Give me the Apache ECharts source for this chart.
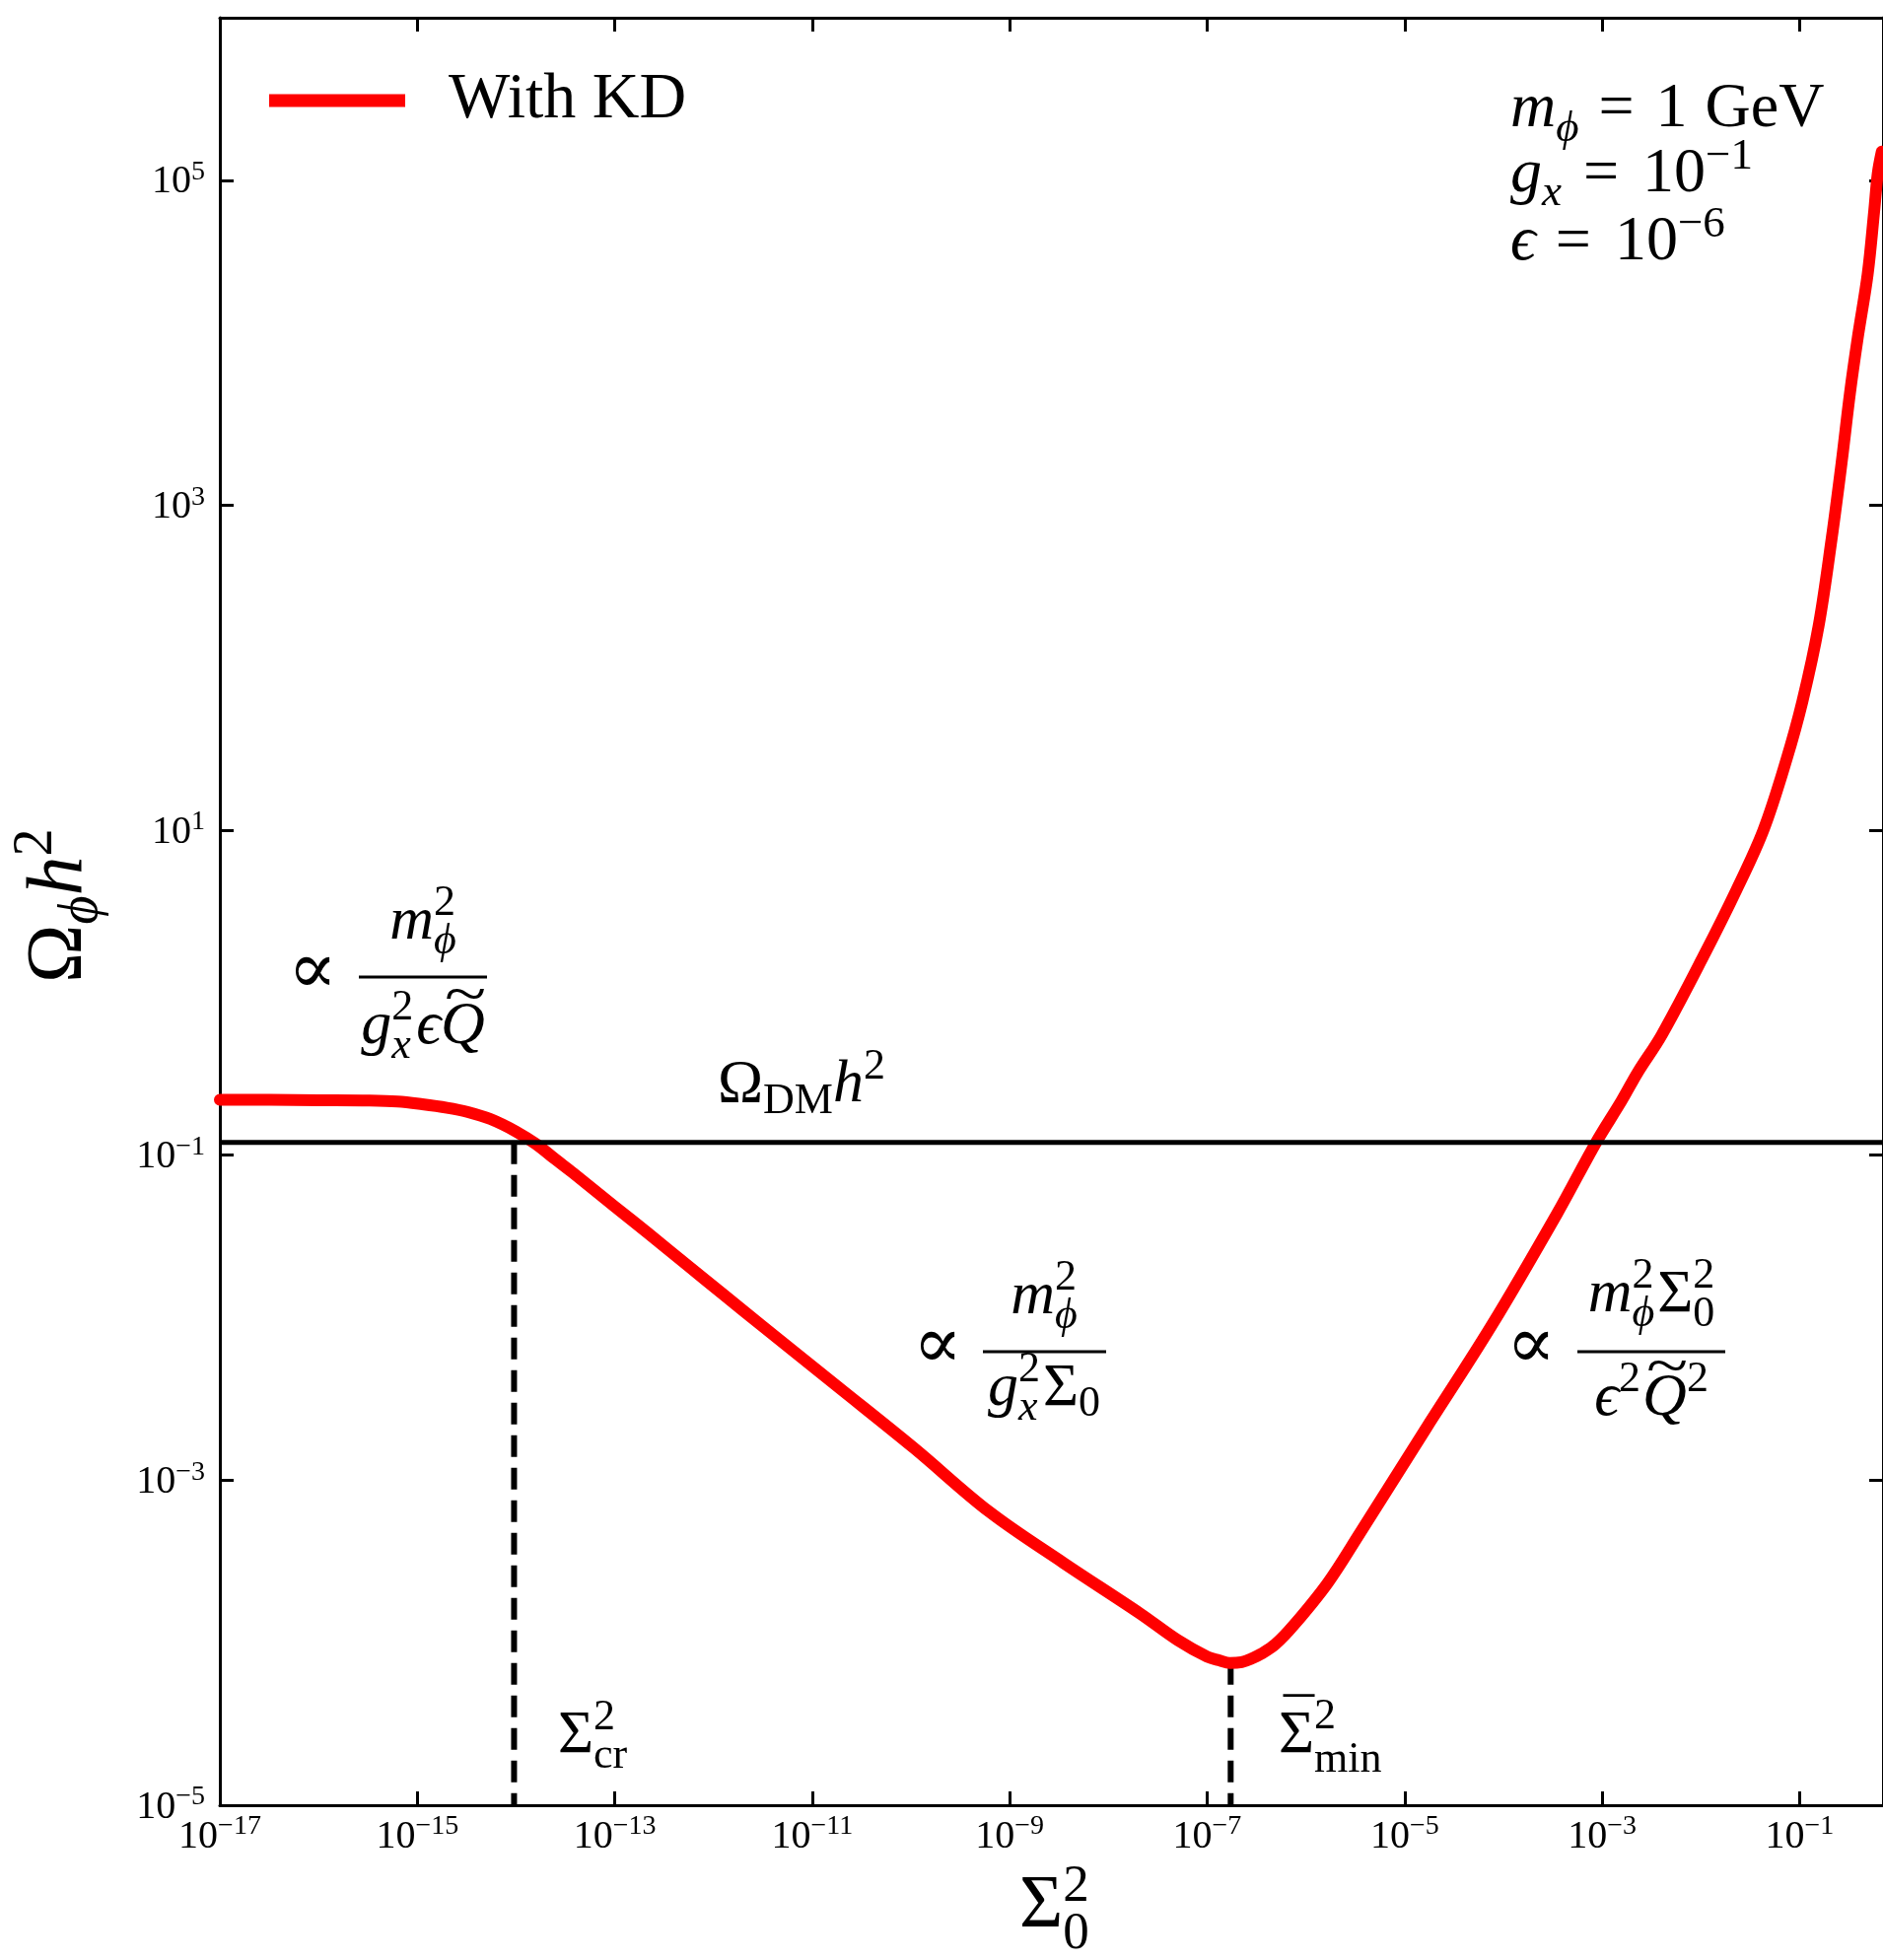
<!DOCTYPE html>
<html><head><meta charset="utf-8">
<script src="https://cdn.jsdelivr.net/npm/echarts@6/dist/echarts.min.js"></script>
<style>html,body{margin:0;padding:0;background:#fff}#c{width:1910px;height:1988px}</style>
</head><body><div id="c"></div>
<script>
// ---------------- data ----------------
const sigma0Sq = [1e-17, 3.2e-17, 1e-16, 3.2e-16, 6.3e-16, 1.12e-15, 2.0e-15, 3.2e-15, 5.5e-15, 1.0e-14,
  1.6e-14, 2.5e-14, 3.8e-14, 1.0e-13, 2.2e-13, 5.6e-13, 1.26e-12, 3.2e-12, 1.86e-11, 1.07e-10,
  6.2e-10, 3.5e-9, 2.1e-8, 5.0e-8, 1.0e-7, 1.32e-7, 1.7e-7, 2.24e-7, 2.9e-7, 3.5e-7,
  4.9e-7, 7.6e-7, 1.66e-6, 3.5e-6, 1.62e-5, 7.6e-5, 3.5e-4, 8.7e-4, 1.58e-3, 2.3e-3,
  4.0e-3, 1.07e-2, 2.3e-2, 4.3e-2, 7.3e-2, 0.107, 0.156, 0.212, 0.267,
  0.324, 0.39, 0.49, 0.57, 0.62, 0.68];
const omegaH2 = [0.219, 0.219, 0.218, 0.217, 0.214, 0.206, 0.196, 0.185, 0.167, 0.140,
  0.117, 0.0944, 0.0776, 0.0483, 0.0329, 0.0207, 0.0139, 0.00877, 0.00372, 0.00158,
  6.4e-4, 3.1e-4, 1.51e-4, 1.04e-4, 8.2e-5, 7.8e-5, 7.5e-5, 7.6e-5, 8.04e-5, 8.51e-5,
  9.77e-5, 1.29e-4, 2.33e-4, 4.7e-4, 2.05e-3, 8.95e-3, 0.0437, 0.12, 0.217, 0.324,
  0.547, 1.69, 4.3, 10.0, 26.7, 62.2, 181, 631, 1840,
  4900, 10900, 26500, 64700, 110700, 1.5e5];
const xTickExponents = [-17, -15, -13, -11, -9, -7, -5, -3, -1];
const yTickExponents = [-5, -3, -1, 1, 3, 5];
const xRange = [1e-17, 0.70];
const yRange = [1e-5, 1e6];
const omegaDM = 0.12;
const sigmaCr = 9.55e-15;
const sigmaMin = 1.73e-7;
const omegaAtMin = 7.5e-5;
const seriesName = 'With KD';

// ---------------- helpers ----------------
const L10 = Math.log10;
const xMinL = L10(xRange[0]), xMaxL = L10(xRange[1]);
const yMinL = L10(yRange[0]), yMaxL = L10(yRange[1]);
const FF = '"Liberation Serif","DejaVu Serif",serif';
const mctx = document.createElement('canvas').getContext('2d');
const MID = 0.3375;
function fnt(p){ return (p.it ? 'italic ' : '') + p.f + 'px ' + FF; }
function layout(pieces){
  let cx = 0, pend = 0; const kids = [];
  for (const p of pieces){
    const font = fnt(p);
    mctx.font = font;
    const w = mctx.measureText(p.t).width;
    cx += (p.pre || 0);
    const el = {type:'text', silent:true, x: cx + (p.dx || 0), y: (p.dy || 0) - MID * p.f,
      style:{text:p.t, font:font, fill:'#000', align:'left', verticalAlign:'middle'}};
    if (p.sx) { el.scaleX = p.sx; }
    kids.push(el);
    if (p.w0) { pend = Math.max(pend, w); }
    else { cx += Math.max(w, pend) + (p.gap || 0); pend = 0; }
  }
  return {kids, width: cx};
}
function mathText(pieces, x, y, align, rotation){
  const Lo = layout(pieces);
  const off = align === 'center' ? -Lo.width / 2 : (align === 'right' ? -Lo.width : 0);
  Lo.kids.forEach(k => { k.x += off; });
  return {type:'group', x:x, y:y, rotation: rotation || 0, silent:true, children: Lo.kids};
}
const it = (t, f, o) => Object.assign({t:t, f:f, it:true}, o || {});
const rm = (t, f, o) => Object.assign({t:t, f:f, it:false}, o || {});
function bar(x1, x2, y){ return {type:'line', silent:true, shape:{x1:x1, y1:y, x2:x2, y2:y}, style:{stroke:'#000', lineWidth:3}}; }
function expLabel(v){ const e = Math.round(v); return '{b|10}{s|' + (e < 0 ? '\u2212' + (-e) : '' + e) + '}'; }
const tickRich = {
  b:{fontFamily:FF, fontSize:40, lineHeight:44, verticalAlign:'bottom', color:'#000'},
  s:{fontFamily:FF, fontSize:28, lineHeight:24, verticalAlign:'top', color:'#000'}
};
const axisLineStyle = {color:'#000', width:3};
const FM = 62, FS = 44;   // fraction main / script sizes
const tilde = (dx) => rm('~', 60, {dy:-31, dx:dx, w0:true, sx:1.3});

const graphics = [
  // y-axis title  Ω_φ h^2
  mathText([rm('Ω',80), it('ϕ',56,{dy:14}), it('h',80), rm('2',56,{dy:-32})], 88, 997, 'left', Math.PI/2),
  // x-axis title  Σ_0^2
  mathText([rm('Σ',76), rm('2',53,{dy:-28,w0:true}), rm('0',53,{dy:20})], 1034, 1960, 'left'),
  // parameters
  mathText([it('m',64), it('ϕ',45,{dy:13,gap:20}), rm('=',64,{gap:22}), rm('1',64,{gap:18}), rm('GeV',64)], 1532, 133, 'left'),
  mathText([it('g',64), it('x',45,{dy:12,gap:22}), rm('=',64,{gap:24}), rm('10',64), rm('\u22121',45,{dy:-25})], 1532, 199, 'left'),
  mathText([it('ϵ',64,{gap:20}), rm('=',64,{gap:24}), rm('10',64), rm('\u22126',45,{dy:-25})], 1532, 268, 'left'),
  // Ω_DM h^2
  mathText([rm('Ω',62), rm('DM',44,{dy:10}), it('h',62), rm('2',44,{dy:-25})], 728, 1122, 'left'),
  // left fraction
  mathText([rm('∝',74)], 317, 1013, 'center'),
  mathText([it('m',FM), rm('2',FS,{dy:-26,w0:true}), it('ϕ',FS,{dy:13})], 429, 957, 'center'),
  bar(364, 494, 991),
  mathText([it('g',FM), rm('2',FS,{dy:-26,w0:true}), it('x',FS,{dy:13,gap:3}), it('ϵ',FM),
            tilde(4), it('Q',FM)], 429, 1063, 'center'),
  // middle fraction
  mathText([rm('∝',74)], 951, 1393, 'center'),
  mathText([it('m',FM), rm('2',FS,{dy:-26,w0:true}), it('ϕ',FS,{dy:13})], 1059, 1337, 'center'),
  bar(997, 1122, 1371),
  mathText([it('g',FM), rm('2',FS,{dy:-26,w0:true}), it('x',FS,{dy:13,gap:3}), rm('Σ',FM), rm('0',FS,{dy:9})], 1059, 1430, 'center'),
  // right fraction
  mathText([rm('∝',74)], 1553, 1393, 'center'),
  mathText([it('m',FM), rm('2',FS,{dy:-26,w0:true}), it('ϕ',FS,{dy:13,gap:3}), rm('Σ',FM), rm('2',FS,{dy:-26,w0:true}), rm('0',FS,{dy:13})], 1675, 1335, 'center'),
  bar(1600, 1750, 1371),
  mathText([it('ϵ',FM), rm('2',FS,{dy:-26,gap:2}), tilde(4), it('Q',FM), rm('2',FS,{dy:-26})], 1675, 1440, 'center'),
  // Σ_cr^2
  mathText([rm('Σ',62), rm('2',44,{dy:-25,w0:true}), rm('cr',44,{dy:14})], 566, 1782, 'left'),
  // Σbar_min^2
  mathText([rm('¯',62,{dy:-12,dx:5,w0:true}), rm('Σ',62), rm('2',44,{dy:-26,w0:true}), rm('min',44,{dy:18})], 1297, 1782, 'left')
];

const option = {
  animation:false,
  backgroundColor:'#fff',
  grid:{left:223, right:-5, top:18, bottom:157, containLabel:false},
  legend:{
    data:[seriesName], left:268, top:64, icon:'rect', itemWidth:138, itemHeight:13, padding:5,
    selectedMode:false, formatter:'{a|' + seriesName + '}',
    textStyle:{fontFamily:FF, fontSize:66, color:'#000',
      rich:{a:{fontFamily:FF, fontSize:66, color:'#000', padding:[0,0,0,39]}}}
  },
  xAxis:[
    {type:'value', position:'bottom', min:xMinL, max:xMaxL,
     axisLine:{onZero:false, lineStyle:axisLineStyle},
     axisTick:{show:true, inside:true, length:14, lineStyle:{color:'#000', width:3}, customValues:xTickExponents},
     axisLabel:{show:true, customValues:xTickExponents, formatter:expLabel, margin:8, rich:tickRich},
     splitLine:{show:false}},
    {type:'value', position:'top', min:xMinL, max:xMaxL,
     axisLine:{onZero:false, lineStyle:axisLineStyle},
     axisTick:{show:true, inside:true, length:14, lineStyle:{color:'#000', width:3}, customValues:xTickExponents},
     axisLabel:{show:false}, splitLine:{show:false}}
  ],
  yAxis:[
    {type:'value', position:'left', min:yMinL, max:yMaxL,
     axisLine:{onZero:false, lineStyle:axisLineStyle},
     axisTick:{show:true, inside:true, length:14, lineStyle:{color:'#000', width:3}, customValues:yTickExponents},
     axisLabel:{show:true, customValues:yTickExponents, formatter:expLabel, margin:15, rich:tickRich},
     splitLine:{show:false}},
    {type:'value', position:'right', min:yMinL, max:yMaxL,
     axisLine:{onZero:false, lineStyle:axisLineStyle},
     axisTick:{show:true, inside:true, length:14, lineStyle:{color:'#000', width:3}, customValues:yTickExponents},
     axisLabel:{show:false}, splitLine:{show:false}}
  ],
  series:[
    {name:seriesName, type:'line', xAxisIndex:0, yAxisIndex:0, z:3,
     data: sigma0Sq.map((s, i) => [L10(s), L10(omegaH2[i])]),
     showSymbol:false, smooth:0.35,
     lineStyle:{color:'#ff0000', width:12, join:'round', cap:'round'}, itemStyle:{color:'#ff0000'}},
    {name:'OmegaDM', type:'line', xAxisIndex:0, yAxisIndex:0, z:4,
     data:[[xMinL, L10(omegaDM)], [xMaxL, L10(omegaDM)]],
     showSymbol:false, lineStyle:{color:'#000', width:5}, itemStyle:{color:'#000'}},
    {name:'SigmaCr', type:'line', xAxisIndex:0, yAxisIndex:0, z:2,
     data:[[L10(sigmaCr), L10(omegaDM)], [L10(sigmaCr), yMinL]],
     showSymbol:false, lineStyle:{color:'#000', width:6, type:[22, 11]}, itemStyle:{color:'#000'}},
    {name:'SigmaMin', type:'line', xAxisIndex:0, yAxisIndex:0, z:2,
     data:[[L10(sigmaMin), L10(omegaAtMin)], [L10(sigmaMin), yMinL]],
     showSymbol:false, lineStyle:{color:'#000', width:6, type:[22, 11]}, itemStyle:{color:'#000'}}
  ],
  graphic:{elements:graphics}
};
const chart = echarts.init(document.getElementById('c'), null, {renderer:'canvas', width:1910, height:1988});
chart.setOption(option);
</script>
</body></html>
